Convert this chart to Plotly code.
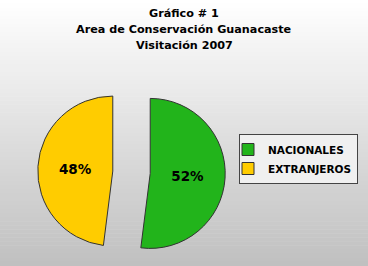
import plotly.graph_objects as go

labels = ["NACIONALES", "EXTRANJEROS"]
values = [52, 48]
colors = ["#22b41b", "#ffcc00"]
title_lines = ["Gráfico # 1", "Area de Conservación Guanacaste", "Visitación 2007"]

W, H = 368, 266

fig = go.Figure()
fig.add_trace(go.Pie(
    labels=labels, values=values, sort=False, direction="clockwise", rotation=0,
    marker=dict(colors=colors, line=dict(color="#333333", width=1)),
    pull=[0.25, 0.25],
    textinfo="percent", textposition="inside",
    texttemplate="%{percent:.0%}",
    insidetextfont=dict(family="DejaVu Sans", size=13.5, color="black", weight="bold"),
    domain=dict(x=[0.1026, 0.6121], y=[0.0, 0.705]),
    hoverinfo="skip",
))

# background gradient
shapes = []
n = 66
for i in range(n):
    t = i / (n - 1)
    c = int(round(255 - t * (255 - 192)))
    shapes.append(dict(type="rect", xref="paper", yref="paper", x0=0, x1=1,
                       y0=1 - (i + 1) / n, y1=1 - i / n + 0.002,
                       fillcolor=f"rgb({c},{c},{c})", line=dict(width=0), layer="below"))

annotations = []
for k, line in enumerate(title_lines):
    yc = 13 + k * 16.5
    annotations.append(dict(text=line, xref="paper", yref="paper", x=0.5, y=1 - yc / H,
                            xanchor="center", yanchor="middle", showarrow=False,
                            font=dict(family="DejaVu Sans", size=11.2, color="black", weight="bold")))

fig.update_layout(
    width=W, height=H, margin=dict(l=0, r=0, t=0, b=0),
    paper_bgcolor="white", plot_bgcolor="rgba(0,0,0,0)",
    shapes=shapes, annotations=annotations,
    legend=dict(x=239 / W, y=1 - 134 / H, xanchor="left", yanchor="top",
                bgcolor="#f0f0f0", bordercolor="#444444", borderwidth=1,
                font=dict(family="DejaVu Sans", size=10.5, color="black", weight="bold"),
                itemwidth=30, indentation=-12, tracegroupgap=0),
    showlegend=True,
)

fig.write_html("out.html")
